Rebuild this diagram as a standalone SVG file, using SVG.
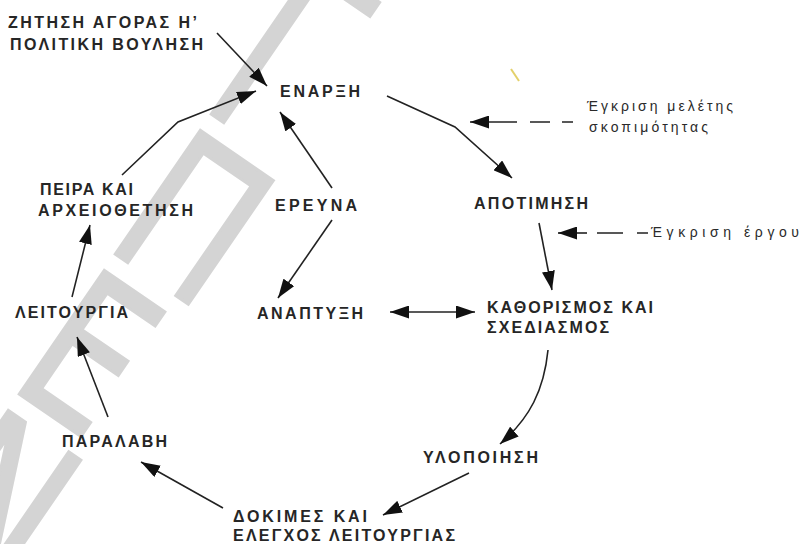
<svg xmlns="http://www.w3.org/2000/svg" width="801" height="544" viewBox="0 0 801 544">
  <style>
    .lbl { font-family: "Liberation Sans", "DejaVu Sans", Arial, sans-serif; font-size: 16px; font-weight: bold; fill: #262626; }
    .note { font-family: "Liberation Sans", "DejaVu Sans", Arial, sans-serif; font-size: 14px; fill: #2a2a2a; }
    .wm { font-family: "DejaVu Sans", "Liberation Sans", sans-serif; font-size: 206px; fill: #d4d4d4; stroke: #d4d4d4; stroke-width: 3; }
    .edge { fill: none; stroke: #222; stroke-width: 1.6; }
    .dash { fill: none; stroke: #222; stroke-width: 1.6; }
  </style>
  <defs>
    <marker id="head" markerUnits="userSpaceOnUse" markerWidth="19" markerHeight="13" refX="19" refY="6.5" orient="auto-start-reverse">
      <path d="M0,0 L19,6.5 L0,13 z" fill="#111"/>
    </marker>
  </defs>

  <rect width="801" height="544" fill="#ffffff"/>

  <!-- watermark: letters stacked along the diagonal, each glyph turned so its top faces up-right -->
  <g id="watermark">
    <text class="wm" transform="translate(-90,525) rotate(34.5) scale(0.78,1)">Ν</text>
    <text class="wm" transform="translate(6,385) rotate(34.5) scale(0.78,1)">Ε</text>
    <text class="wm" transform="translate(102,245) rotate(34.5) scale(0.78,1)">Π</text>
    <text class="wm" transform="translate(198,105) rotate(34.5) scale(0.78,1)">Ι</text>
    <text class="wm" transform="translate(295,-35) rotate(34.5) scale(0.78,1)">Σ</text>
  </g>

  <!-- stray mark -->
  <line x1="511" y1="69" x2="519" y2="81" stroke="#e3d06a" stroke-width="2"/>

  <g id="connectors">
    <path class="edge" d="M217,33 L267,86" marker-end="url(#head)"/>
    <path class="edge" d="M122,175 L178,122 L256,91" marker-end="url(#head)"/>
    <path class="edge" d="M332,188 L280,112" marker-end="url(#head)"/>
    <path class="edge" d="M332,220 L278,298" marker-end="url(#head)"/>
    <path class="edge" d="M387,96 L455,127 L512,178" marker-end="url(#head)"/>
    <path class="edge" d="M517,122 L470,122" marker-end="url(#head)"/>
    <path class="dash" d="M530,122 L550,122 M562,122 L573,122"/>
    <path class="edge" d="M539,223 L552,290" marker-end="url(#head)"/>
    <path class="edge" d="M587,233 L558,233" marker-end="url(#head)"/>
    <path class="dash" d="M597,233 L623,233 M637,233 L648,233"/>
    <path class="edge" d="M390,312 L475,312" marker-start="url(#head)" marker-end="url(#head)"/>
    <path class="edge" d="M548,350 C544,390 530,418 500,444" marker-end="url(#head)"/>
    <path class="edge" d="M469,473 L383,515" marker-end="url(#head)"/>
    <path class="edge" d="M223,508 L141,462" marker-end="url(#head)"/>
    <path class="edge" d="M108,417 L77,337" marker-end="url(#head)"/>
    <path class="edge" d="M72,297 L90,225" marker-end="url(#head)"/>
  </g>

  <g id="demand">
    <text class="lbl" x="8" y="28" textLength="189" lengthAdjust="spacing">ΖΗΤΗΣΗ ΑΓΟΡΑΣ Η’</text>
    <text class="lbl" x="10" y="50" textLength="193" lengthAdjust="spacing">ΠΟΛΙΤΙΚΗ ΒΟΥΛΗΣΗ</text>
  </g>
  <g id="start">
    <text class="lbl" x="280" y="97" textLength="80" lengthAdjust="spacing">ΕΝΑΡΞΗ</text>
  </g>
  <g id="feasibility-approval">
    <text class="note" x="587" y="111" textLength="146" lengthAdjust="spacing">Έγκριση μελέτης</text>
    <text class="note" x="589" y="132" textLength="119" lengthAdjust="spacing">σκοπιμότητας</text>
  </g>
  <g id="evaluation">
    <text class="lbl" x="474" y="209" textLength="114" lengthAdjust="spacing">ΑΠΟΤΙΜΗΣΗ</text>
  </g>
  <g id="project-approval">
    <text class="note" x="651" y="237" textLength="148" lengthAdjust="spacing">Έγκριση έργου</text>
  </g>
  <g id="research">
    <text class="lbl" x="275" y="211" textLength="82" lengthAdjust="spacing">ΕΡΕΥΝΑ</text>
  </g>
  <g id="development">
    <text class="lbl" x="257" y="319" textLength="106" lengthAdjust="spacing">ΑΝΑΠΤΥΞΗ</text>
  </g>
  <g id="design">
    <text class="lbl" x="487" y="313" textLength="166" lengthAdjust="spacing">ΚΑΘΟΡΙΣΜΟΣ ΚΑΙ</text>
    <text class="lbl" x="487" y="333" textLength="122" lengthAdjust="spacing">ΣΧΕΔΙΑΣΜΟΣ</text>
  </g>
  <g id="implementation">
    <text class="lbl" x="423" y="463" textLength="115" lengthAdjust="spacing">ΥΛΟΠΟΙΗΣΗ</text>
  </g>
  <g id="testing">
    <text class="lbl" x="233" y="522" textLength="134" lengthAdjust="spacing">ΔΟΚΙΜΕΣ ΚΑΙ</text>
    <text class="lbl" x="233" y="541" textLength="222" lengthAdjust="spacing">ΕΛΕΓΧΟΣ ΛΕΙΤΟΥΡΓΙΑΣ</text>
  </g>
  <g id="acceptance">
    <text class="lbl" x="62" y="447" textLength="105" lengthAdjust="spacing">ΠΑΡΑΛΑΒΗ</text>
  </g>
  <g id="operation">
    <text class="lbl" x="15" y="318" textLength="113" lengthAdjust="spacing">ΛΕΙΤΟΥΡΓΙΑ</text>
  </g>
  <g id="experience">
    <text class="lbl" x="40" y="195" textLength="93" lengthAdjust="spacing">ΠΕΙΡΑ ΚΑΙ</text>
    <text class="lbl" x="38" y="216" textLength="155" lengthAdjust="spacing">ΑΡΧΕΙΟΘΕΤΗΣΗ</text>
  </g>
</svg>
